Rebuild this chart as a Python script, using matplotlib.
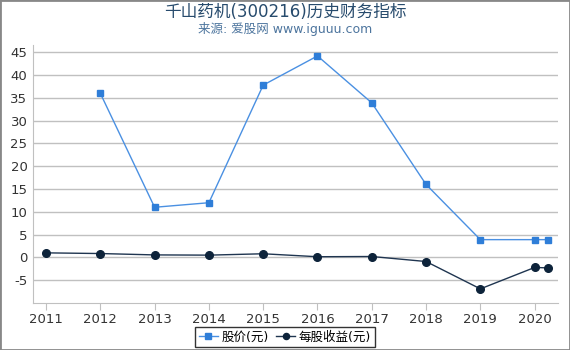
import matplotlib
matplotlib.use("Agg")
import matplotlib.pyplot as plt
from matplotlib.patches import Rectangle

plt.rcParams['font.family'] = ['DejaVu Sans', 'Noto Sans CJK SC']

years = [2011, 2012, 2013, 2014, 2015, 2016, 2017, 2018, 2019, 2020]
price_x = [2012, 2013, 2014, 2015, 2016, 2017, 2018, 2019, 2020, 2020.25]
price = [36.0, 11.0, 12.0, 37.8, 44.2, 33.9, 16.0, 3.9, 3.9, 3.9]
eps_x = [2011, 2012, 2013, 2014, 2015, 2016, 2017, 2018, 2019, 2020, 2020.25]
eps = [1.0, 0.85, 0.55, 0.5, 0.8, 0.15, 0.2, -0.9, -6.9, -2.2, -2.3]
yticks = [-5, 0, 5, 10, 15, 20, 25, 30, 35, 40, 45]

fig = plt.figure(figsize=(5.7, 3.5), dpi=100)
ax = fig.add_axes([33/570, 1-303/350, (558-33)/570, (303-45)/350])

ax.plot(price_x, price, color='#4a90e2', lw=1, marker='s', ms=5,
        mfc='#2f7ed8', mec='#2f7ed8', label='股价(元)', zorder=3)
ax.plot(eps_x, eps, color='#1f3550', lw=1, marker='o', ms=5.5,
        mfc='#0d233a', mec='#0d233a', label='每股收益(元)', zorder=3)

ax.set_xlim(2010.76, 2020.43)
ax.set_ylim(-10, 46.6)
ax.set_yticks(yticks)
ax.set_yticklabels([str(v) for v in yticks])
ax.set_xticks(years)
ax.grid(axis='y', color='#c0c0c0', lw=1)
ax.set_axisbelow(True)
for s in ['top', 'right']:
    ax.spines[s].set_visible(False)
ax.spines['left'].set_color('#c0c0c0')
ax.spines['bottom'].set_color('#c0c0c0')
ax.tick_params(axis='y', length=0, labelsize=9.5, colors='#333333', pad=4)
ax.tick_params(axis='x', length=5, color='#c0c0c0', labelsize=9.5, colors='#333333', pad=2)

fig.text(0.5, 0.965, '千山药机(300216)历史财务指标', ha='center', va='center',
         fontsize=12, color='#274b6d')
fig.text(0.5, 0.918, '来源: 爱股网 www.iguuu.com', ha='center', va='center',
         fontsize=9, color='#4d759e')

leg = fig.legend(loc='center', bbox_to_anchor=(0.5, 1-337/350), ncol=2,
                 frameon=True, fontsize=9, handlelength=1.5, handletextpad=0.3,
                 columnspacing=0.6, borderpad=0.3, fancybox=False, markerscale=0.8)
leg.get_frame().set_edgecolor('black')
leg.get_frame().set_linewidth(1)

fig.patches.append(Rectangle((0, 0), 1, 1, transform=fig.transFigure,
                             fill=False, edgecolor='#888888', lw=2))

fig.savefig('out.png', dpi=100)
